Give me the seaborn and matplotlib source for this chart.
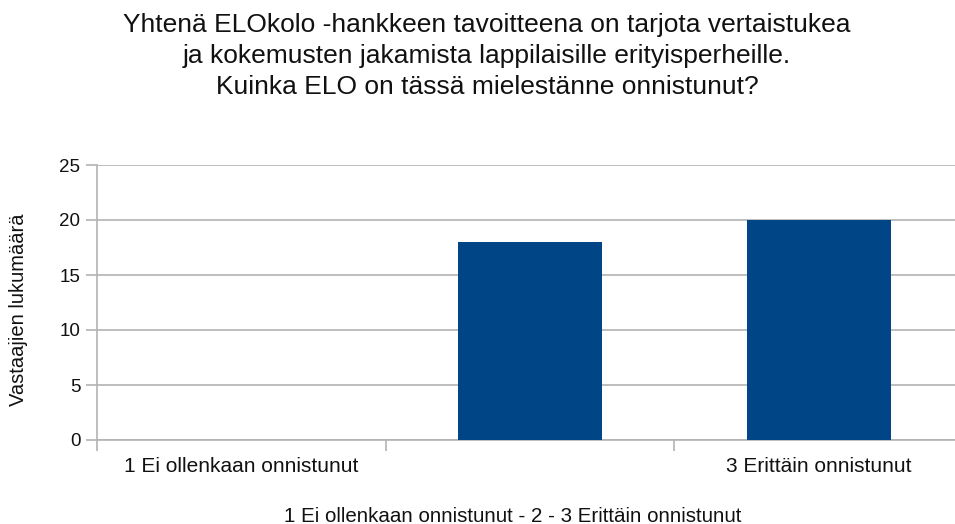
import matplotlib
matplotlib.use("Agg")
import matplotlib.pyplot as plt
import seaborn as sns
import pandas as pd

categories = ["1 Ei ollenkaan onnistunut", "2", "3 Erittäin onnistunut"]
shown_labels = ["1 Ei ollenkaan onnistunut", "", "3 Erittäin onnistunut"]
values = [0, 18, 20]
title = ("Yhtenä ELOkolo -hankkeen tavoitteena on tarjota vertaistukea\n"
         "ja kokemusten jakamista lappilaisille erityisperheille.\n"
         "Kuinka ELO on tässä mielestänne onnistunut?")
xlabel = "1 Ei ollenkaan onnistunut - 2 - 3 Erittäin onnistunut"
ylabel = "Vastaajien lukumäärä"
yticks = [0, 5, 10, 15, 20, 25]

sns.set_theme(style="white")
plt.rcParams['font.family'] = ['Liberation Sans', 'DejaVu Sans']

df = pd.DataFrame({"cat": categories, "val": values})

fig = plt.figure(figsize=(9.55, 5.24), dpi=100)
ax = fig.add_axes([97/955, 1-440/524, (963-97)/955, (440-165)/524])
sns.barplot(data=df, x="cat", y="val", color="#004586", width=0.5,
            saturation=1, linewidth=0, ax=ax, zorder=3)

ax.set_xlim(-0.5, 2.5)
ax.set_ylim(0, 25)
ax.set_yticks(yticks)
ax.set_yticklabels([str(t) for t in yticks], fontsize=13.5, color="#111111")
ax.yaxis.grid(True, color="#b3b3b3", linewidth=1.2, zorder=0)
ax.xaxis.grid(False)
for s in ["top", "right"]:
    ax.spines[s].set_visible(False)
ax.spines["left"].set_color("#b3b3b3")
ax.spines["left"].set_linewidth(1.2)
ax.spines["bottom"].set_color("#b3b3b3")
ax.spines["bottom"].set_linewidth(1.2)
ax.tick_params(axis="y", which="major", left=True, length=8, width=1.2,
               color="#b3b3b3", pad=4)

ax.set_xticks([0, 1, 2])
ax.set_xticklabels(shown_labels, fontsize=15, color="#111111")
ax.tick_params(axis="x", which="major", bottom=False, length=0, pad=12)
ax.set_xticks([-0.5, 0.5, 1.5, 2.5], minor=True)
ax.tick_params(axis="x", which="minor", bottom=True, length=8, width=1.2,
               color="#b3b3b3", direction="out")

ax.set_xlabel("")
ax.set_ylabel("")
fig.text(19/955, 1-310/524, ylabel, rotation=90, ha="center", va="center",
         fontsize=14.5, color="#111111")
fig.text(513/955, 1-516/524, xlabel, ha="center", va="center",
         fontsize=14.8, color="#111111")
fig.text(487/955, 1-56/524, title, ha="center", va="center",
         fontsize=19, color="#111111", linespacing=1.35)

fig.savefig("out.png", dpi=100)
